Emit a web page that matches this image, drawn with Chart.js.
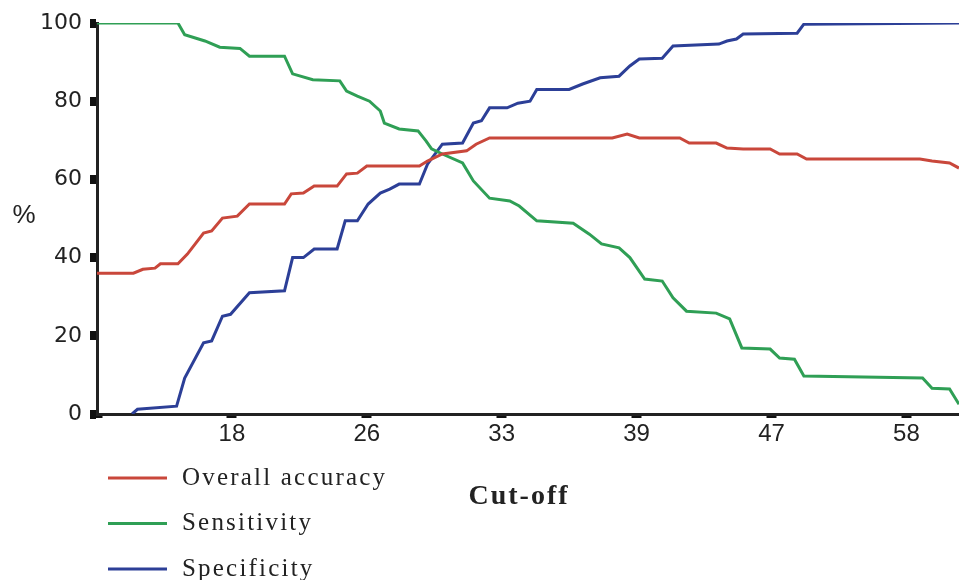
<!DOCTYPE html>
<html lang="en">
<head>
    <meta charset="UTF-8">
    <title>Cut-off curves</title>
    <script src="https://cdn.jsdelivr.net/npm/chart.js"></script>
    <style>
        html, body { margin: 0; padding: 0; background: #fff; }
        #wrap { width: 959px; height: 580px; }
    </style>
</head>
<body>
    <div id="wrap">
        <canvas id="cutoffChart" width="959" height="580"></canvas>
    </div>

    <script>
        // tick labels of the cut-off axis (one every 10 position units)
        const cutoffLabels = ["18", "26", "33", "39", "47", "58"];
        const yTicks = [0, 20, 40, 60, 80, 100];

        // [cut-off position, %]
        const accuracy = [
            [0, 36], [2.7, 36], [3.4, 37], [4.3, 37.3], [4.7, 38.4], [6.0, 38.4],
            [6.7, 40.9], [7.9, 46.3], [8.5, 46.8], [9.3, 50.1], [10.4, 50.6],
            [11.3, 53.7], [13.9, 53.7], [14.4, 56.3], [15.3, 56.5], [16.1, 58.3],
            [17.8, 58.3], [18.5, 61.4], [19.3, 61.6], [20.0, 63.4], [23.9, 63.4],
            [24.5, 64.7], [25.6, 66.5], [27.4, 67.3], [28.1, 69], [29.1, 70.6],
            [38.2, 70.6], [39.3, 71.6], [40.2, 70.6], [43.2, 70.6], [43.9, 69.3],
            [45.9, 69.3], [46.7, 68], [47.9, 67.8], [49.9, 67.8], [50.6, 66.5],
            [51.9, 66.5], [52.6, 65.2], [61.0, 65.2], [61.9, 64.7], [63.2, 64.2],
            [63.9, 62.9]
        ];
        const sensitivity = [
            [0, 100], [6.0, 100], [6.5, 97], [8.0, 95.4], [9.1, 93.8], [10.6, 93.5],
            [11.3, 91.5], [13.9, 91.5], [14.5, 87], [16.0, 85.5], [18.0, 85.2],
            [18.5, 82.6], [19.3, 81.3], [20.2, 80], [21.0, 77.5], [21.3, 74.4],
            [22.4, 72.9], [23.8, 72.4], [24.4, 69.8], [24.8, 67.8], [25.6, 66.5],
            [27.1, 64.2], [27.9, 59.6], [29.1, 55.2], [30.6, 54.5], [31.3, 53.2],
            [32.6, 49.4], [35.3, 48.8], [36.5, 46], [37.4, 43.5], [38.7, 42.5],
            [39.5, 40], [40.6, 34.5], [41.9, 34], [42.7, 29.7], [43.7, 26.3],
            [45.9, 25.8], [46.9, 24.3], [47.8, 16.9], [49.9, 16.6], [50.6, 14.3],
            [51.7, 14], [52.4, 9.7], [61.2, 9.2], [61.9, 6.6], [63.2, 6.4], [63.9, 2.5]
        ];
        const specificity = [
            [2.6, 0], [3.0, 1.2], [5.9, 2], [6.5, 9.2], [7.9, 18.2], [8.5, 18.7],
            [9.3, 25], [9.9, 25.5], [11.3, 31], [13.9, 31.5], [14.5, 40], [15.3, 40],
            [16.1, 42.2], [17.8, 42.2], [18.4, 49.4], [19.3, 49.4], [20.1, 53.7],
            [21.0, 56.5], [21.7, 57.5], [22.4, 58.8], [23.9, 58.8], [24.5, 63.9],
            [25.6, 69], [27.1, 69.3], [27.9, 74.4], [28.5, 75], [29.1, 78.3],
            [30.4, 78.3], [31.2, 79.5], [32.1, 80], [32.6, 83], [35.0, 83],
            [36.0, 84.4], [37.3, 86], [38.7, 86.4], [39.5, 89], [40.2, 90.8],
            [41.9, 91], [42.7, 94.1], [46.1, 94.6], [46.7, 95.4], [47.4, 95.9],
            [47.9, 97.2], [51.9, 97.4], [52.4, 99.7], [63.9, 100]
        ];

        const toPoints = arr => arr.map(p => ({ x: p[0], y: p[1] }));

        // legend, "%" and "Cut-off" drawn by hand
        const extrasPlugin = {
            id: "extras",
            afterDraw(chart) {
                const ctx = chart.ctx;
                ctx.save();
                ctx.fillStyle = "#222";
                ctx.textBaseline = "middle";

                ctx.font = "26px 'Liberation Sans'";
                ctx.textAlign = "center";
                ctx.fillText("%", 24, 216);

                ctx.font = "bold 28px 'Liberation Serif'";
                ctx.letterSpacing = "2px";
                ctx.fillText("Cut-off", 519, 497);

                ctx.font = "25px 'Liberation Serif'";
                ctx.letterSpacing = "2.2px";
                ctx.textAlign = "left";
                chart.data.datasets.forEach((ds, i) => {
                    const y = 478 + i * 45.5;
                    ctx.strokeStyle = ds.borderColor;
                    ctx.lineWidth = 3;
                    ctx.beginPath();
                    ctx.moveTo(108, y);
                    ctx.lineTo(167, y);
                    ctx.stroke();
                    ctx.fillText(ds.label, 182, y);
                });
                ctx.restore();
            }
        };

        const ctx = document.getElementById("cutoffChart").getContext("2d");
        const chart = new Chart(ctx, {
            type: "line",
            data: {
                datasets: [
                    { label: "Overall accuracy", data: toPoints(accuracy), borderColor: "#c9473b" },
                    { label: "Sensitivity", data: toPoints(sensitivity), borderColor: "#2f9f55" },
                    { label: "Specificity", data: toPoints(specificity), borderColor: "#2c3f97" }
                ]
            },
            options: {
                responsive: false,
                animation: false,
                devicePixelRatio: 1,
                layout: { padding: { top: 23, right: 0, left: 0, bottom: 0 } },
                elements: {
                    line: { borderWidth: 3, tension: 0, fill: false },
                    point: { radius: 0 }
                },
                plugins: {
                    legend: { display: false },
                    tooltip: { enabled: false }
                },
                scales: {
                    x: {
                        type: "linear",
                        min: 0,
                        max: 63.9,
                        afterFit: scale => { scale.height = 166; },
                        border: { color: "#222", width: 3 },
                        grid: { drawOnChartArea: false, tickLength: 4, tickWidth: 10, tickColor: "#111" },
                        ticks: {
                            stepSize: 10,
                            includeBounds: false,
                            autoSkip: false,
                            maxRotation: 0,
                            padding: 2,
                            color: "#222",
                            font: { family: "'Liberation Sans'", size: 24 },
                            callback: v => (v > 0 ? cutoffLabels[v / 10 - 1] : "")
                        }
                    },
                    y: {
                        min: 0,
                        max: 100,
                        afterFit: scale => { scale.width = 97; },
                        afterBuildTicks: scale => { scale.ticks = yTicks.map(v => ({ value: v })); },
                        border: { color: "#222", width: 3 },
                        grid: { drawOnChartArea: false, tickLength: 7, tickWidth: 9, tickColor: "#111" },
                        ticks: {
                            padding: 8,
                            color: "#222",
                            font: { family: "'DejaVu Sans'", size: 22 }
                        }
                    }
                }
            },
            plugins: [extrasPlugin]
        });
    </script>
</body>
</html>
